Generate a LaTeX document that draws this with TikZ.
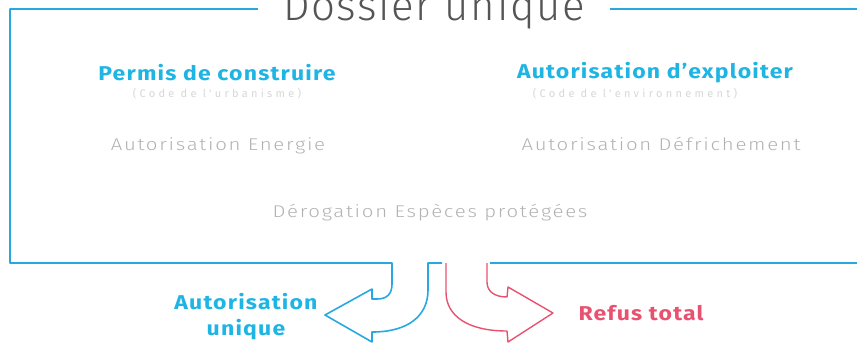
\documentclass[tikz,border=0pt]{standalone}
\usepackage{fontspec}
\setmainfont{Fira Sans}
\newfontfamily\rubfont{Fira Sans}[FakeStretch=1.15,LetterSpace=6]
\newfontfamily\notefont{Fira Sans}[LetterSpace=30]
\IfFontExistsTF{Fira Sans Light}
  {\newfontfamily\titlefont{Fira Sans Light}[LetterSpace=4]
   \newfontfamily\piecefont{Fira Sans Light}[FakeStretch=1.2,LetterSpace=10]}
  {\newfontfamily\titlefont{Fira Sans}[LetterSpace=4]
   \newfontfamily\piecefont{Fira Sans}[FakeStretch=1.2,LetterSpace=10]}
\definecolor{bleu}{RGB}{40,168,225}
\definecolor{bleutitre}{RGB}{30,180,228}
\definecolor{rose}{RGB}{232,82,112}
\definecolor{grisclair}{RGB}{178,178,178}
\definecolor{grisnote}{RGB}{215,215,215}
\definecolor{grisfonce}{RGB}{85,85,85}

\begin{document}
\begin{tikzpicture}[x=1pt,y=-1pt,
    cadre/.style={bleu,line width=1.6pt,line join=round},
    fleche/.style={rose,line width=1.4pt,line join=round},
    titre/.style={font=\rubfont\bfseries\fontsize{20}{26}\selectfont,text=bleutitre,anchor=base},
    note/.style={font=\notefont\fontsize{11}{11}\selectfont,text=grisnote,anchor=base},
    piece/.style={font=\piecefont\fontsize{17}{17}\selectfont,text=grisclair,anchor=base}]
\useasboundingbox (0,0) rectangle (857,349);
% ------ Dossier unique -----------------------------
\node[font=\titlefont\fontsize{42}{42}\selectfont,text=grisfonce,anchor=base,inner xsep=25pt] (dossier) at (434,20) {Dossier unique};
\node[titre] (permis) at (217,80) {Permis de construire};
\node[note] (urba) at (217,97) {(Code de l'urbanisme)};
\node[titre] (exploiter) at (655,78) {Autorisation d’exploiter};
\node[note] (envi) at (635,97) {(Code de l'environnement)};
\node[piece] (energie) at (218,150) {Autorisation Energie};
\node[piece] (defrich) at (661,150) {Autorisation Défrichement};
\node[piece] (derog) at (430,217) {Dérogation Espèces protégées};
% ------ cadre et fleche bleue -----------------------------
\draw[cadre] (dossier.west |- 0,9) -- (10,9) -- (10,263) -- (392,263) -- (392,284)
    .. controls (392,294) and (387,299) .. (377,299) -- (372,299) -- (372,289) -- (325,315)
    -- (372,342) -- (372,332) .. controls (408,332) and (428,316) .. (428,290) -- (428,263) -- (442,263);
\draw[cadre] (dossier.east |- 0,9) -- (860,9);
\draw[cadre] (490,263) -- (860,263);
% ------ fleche rose -----------------------------
\draw[fleche] (446,263) -- (446,292) .. controls (446,316) and (468,331) .. (507,331) -- (508,342)
    -- (553,313) -- (508,287) -- (507,297) .. controls (494,297) and (487,291) .. (487,282) -- (487,263);
% ------ issues -----------------------------
\node[titre,anchor=center,align=center] (unique) at (246,317) {Autorisation\\unique};
\node[titre,text=rose,anchor=base west] (refus) at (575,320) {Refus total};
\end{tikzpicture}
\end{document}
